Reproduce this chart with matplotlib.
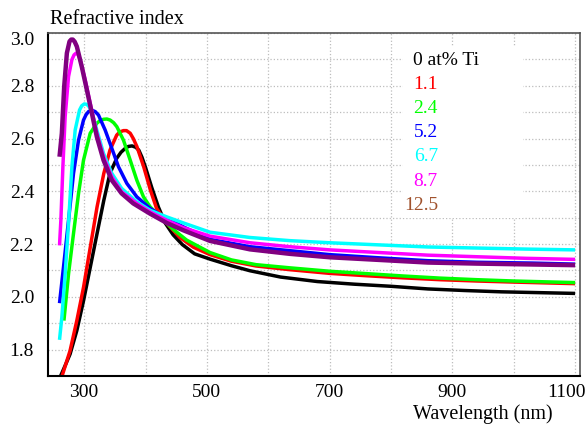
import matplotlib
matplotlib.use("Agg")
import matplotlib.pyplot as plt
from matplotlib.patches import Rectangle
from matplotlib.transforms import ScaledTranslation

# wavelength (nm) and refractive index per Ti content
wl_0 = [261, 270, 277, 288, 299, 310, 321, 332, 342, 353, 360, 367, 372, 378, 384,
        389, 394, 400, 410, 421, 432, 445, 460, 480, 505, 540, 570, 620, 680, 740,
        800, 860, 920, 980, 1040, 1100]
n_0 = [1.697, 1.745, 1.783, 1.872, 1.986, 2.113, 2.240, 2.366, 2.468, 2.525, 2.548,
       2.563, 2.570, 2.572, 2.567, 2.556, 2.530, 2.490, 2.415, 2.340, 2.280, 2.235,
       2.198, 2.163, 2.143, 2.118, 2.099, 2.075, 2.058, 2.048, 2.040, 2.030, 2.024,
       2.019, 2.016, 2.013]

wl_1 = [263, 277, 288, 299, 310, 321, 332, 342, 353, 358, 364, 369, 375, 380, 386,
        397, 408, 418, 435, 456, 478, 505, 540, 580, 635, 700, 760, 820, 880, 940,
        1000, 1050, 1100]
n_1 = [1.693, 1.796, 1.910, 2.037, 2.189, 2.341, 2.468, 2.556, 2.613, 2.625, 2.630,
       2.630, 2.620, 2.600, 2.569, 2.493, 2.404, 2.335, 2.278, 2.225, 2.188, 2.160,
       2.135, 2.117, 2.103, 2.089, 2.080, 2.072, 2.065, 2.060, 2.056, 2.053, 2.050]

wl_2 = [267, 274.5, 282.6, 290.8, 298.9, 309.8, 320.6, 326, 331.5, 337, 342.3, 348,
        353.2, 364, 375, 385.8, 396.6, 407.5, 423.8, 445.5, 467, 505, 540, 580, 635,
        700, 760, 820, 880, 940, 1000, 1050, 1100]
n_2 = [1.910, 2.087, 2.240, 2.392, 2.518, 2.620, 2.658, 2.668, 2.673, 2.674, 2.670,
       2.660, 2.645, 2.594, 2.518, 2.442, 2.379, 2.341, 2.303, 2.255, 2.215, 2.168,
       2.140, 2.122, 2.110, 2.097, 2.088, 2.079, 2.071, 2.065, 2.060, 2.057, 2.054]

wl_5 = [259.8, 266.3, 274.5, 282.6, 290.8, 298.9, 303, 307, 310, 314, 318, 323.3,
        334.2, 345, 355.9, 369.5, 385.8, 407.5, 434.6, 461.8, 505, 570, 635, 700, 780,
        860, 940, 1030, 1100]
n_5 = [1.976, 2.113, 2.290, 2.468, 2.594, 2.670, 2.690, 2.702, 2.705, 2.706, 2.702,
       2.689, 2.632, 2.563, 2.493, 2.430, 2.379, 2.335, 2.297, 2.265, 2.218, 2.190,
       2.175, 2.160, 2.148, 2.137, 2.131, 2.128, 2.124]

wl_6 = [259.8, 263.6, 269, 274.5, 280, 285.3, 292.4, 296, 300, 303.5, 307, 312.5,
        320.6, 331.5, 345, 361, 385.8, 407.5, 434.6, 461.8, 505, 570, 635, 700, 780,
        860, 940, 1020, 1100]
n_6 = [1.837, 1.923, 2.087, 2.278, 2.493, 2.632, 2.708, 2.724, 2.731, 2.730, 2.724,
       2.702, 2.632, 2.544, 2.468, 2.411, 2.360, 2.328, 2.303, 2.280, 2.245, 2.225,
       2.213, 2.205, 2.197, 2.189, 2.185, 2.181, 2.178]

wl_8 = [259.8, 262, 265.3, 269, 274.5, 280, 283.5, 287, 290, 293.5, 301.6, 309.8,
        320.6, 331.5, 345, 361, 385.8, 407.5, 434.6, 461.8, 505, 570, 635, 700, 780,
        860, 940, 1020, 1100]
n_8 = [2.195, 2.290, 2.493, 2.683, 2.835, 2.899, 2.917, 2.924, 2.918, 2.899, 2.823,
       2.734, 2.620, 2.531, 2.455, 2.398, 2.354, 2.322, 2.290, 2.262, 2.230, 2.205,
       2.190, 2.178, 2.168, 2.158, 2.152, 2.146, 2.142]

wl_12 = [259.8, 263.6, 267.4, 271.8, 276.1, 278.8, 281.5, 284.5, 288, 296, 304.3,
         312.5, 320.6, 331.5, 345, 361, 380, 407.5, 434.6, 461.8, 505, 570, 635, 700,
         780, 860, 940, 1020, 1100]
n_12 = [2.531, 2.620, 2.797, 2.924, 2.968, 2.975, 2.975, 2.967, 2.949, 2.873, 2.785,
        2.696, 2.607, 2.518, 2.442, 2.392, 2.354, 2.315, 2.280, 2.252, 2.212, 2.180,
        2.163, 2.150, 2.140, 2.130, 2.126, 2.123, 2.120]

labels = ["0 at% Ti", "1.1", "2.4", "5.2", "6.7", "8.7", "12.5"]
line_colors = ["black", "#ff0000", "#00ff00", "#0000ff", "#00ffff", "#ff00ff", "#800080"]
text_colors = ["black", "#ff0000", "#00ff00", "#0000ff", "#00ffff", "#ff00ff", "#a0522d"]

series = [(wl_0, n_0), (wl_1, n_1), (wl_2, n_2), (wl_5, n_5),
          (wl_6, n_6), (wl_8, n_8), (wl_12, n_12)]

plt.rcParams['font.family'] = ['Liberation Serif', 'DejaVu Serif']

fig = plt.figure(figsize=(5.88, 4.28), dpi=100)
ax = fig.add_axes([0.0816, 0.1215, 0.9048, 0.8014])

for (wl, n), c in zip(series, line_colors):
    lw = 3.2 if c == "#800080" else 2.5
    ax.plot(wl, n, '-', color=c, lw=lw, solid_capstyle='butt', solid_joinstyle='round')

ax.set_xlim(241, 1108)
ax.set_ylim(1.7, 3.0)
ax.set_xticks([300, 500, 700, 900, 1100])
ax.set_xticks([400, 600, 800, 1000], minor=True)
ax.set_yticks([1.8, 2.0, 2.2, 2.4, 2.6, 2.8, 3.0])
ax.set_yticks([1.7, 1.9, 2.1, 2.3, 2.5, 2.7, 2.9], minor=True)
ax.set_yticklabels(["1.8", "2.0", "2.2", "2.4", "2.6", "2.8", "3.0"])
ax.set_axisbelow(True)
ax.grid(True, which='both', linestyle=':', color='#bdbdbd', lw=0.9)
ax.tick_params(which='both', length=0, labelsize=14)
ax.tick_params(axis='y', pad=10)
ax.tick_params(axis='x', pad=5.5)

for side in ['left', 'bottom']:
    ax.spines[side].set_color('black')
    ax.spines[side].set_linewidth(1.5)
for side in ['top', 'right']:
    ax.spines[side].set_color('#555555')
    ax.spines[side].set_linewidth(1.2)

# keep the edge tick labels inside the figure like the original
xl = ax.get_xticklabels()
xl[-1].set_transform(xl[-1].get_transform() + ScaledTranslation(-0.09, 0, fig.dpi_scale_trans))
yl = ax.get_yticklabels()
yl[-1].set_transform(yl[-1].get_transform() + ScaledTranslation(0, -0.055, fig.dpi_scale_trans))

# white patch behind the text legend (hides the grid there)
ax.add_patch(Rectangle((0.667, 0.461), 0.226, 0.498, transform=ax.transAxes,
                       fc='white', ec='none', zorder=1))

y0 = 0.921
dy = 0.0706
for i, (lab, c) in enumerate(zip(labels, text_colors)):
    if i == 0:
        ax.text(0.686, y0, lab, color=c, fontsize=14, ha='left', va='center',
                transform=ax.transAxes, zorder=3)
    else:
        ax.text(0.733, y0 - i * dy, lab, color=c, fontsize=14, ha='right', va='center',
                transform=ax.transAxes, zorder=3)

fig.text(50 / 588, 1 - 24 / 428, "Refractive index", fontsize=14.5, ha='left', va='baseline')
fig.text(413 / 588, 1 - 419 / 428, "Wavelength (nm)", fontsize=14.5, ha='left', va='baseline')

fig.savefig("out.png", dpi=100)
